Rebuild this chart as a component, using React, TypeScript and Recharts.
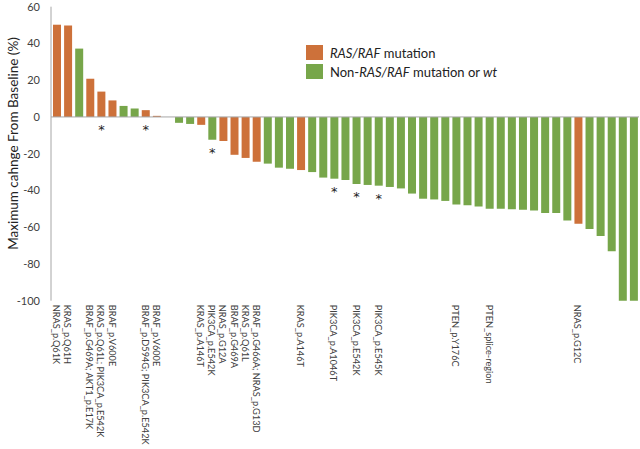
import { BarChart, Bar, XAxis, YAxis, Cell, LabelList, ReferenceLine, Legend } from "recharts";

// one bar per patient, sorted by best change from baseline (%)
const changes = [
  50.2, 49.8, 37.2, 20.8, 13.8, 9.0, 6.0, 4.6, 3.7, 0.6,
  0, -3.2, -3.8, -4.3, -12.4, -13.1, -20.6, -22.3, -24.4, -25.4,
  -27.6, -28.2, -28.9, -30.0, -33.0, -33.6, -34.3, -36.5, -37.0, -37.4,
  -38.1, -38.9, -41.7, -44.5, -44.9, -45.7, -47.6, -48.0, -48.7, -50.0,
  -50.0, -50.2, -50.5, -50.9, -52.3, -52.3, -56.3, -58.1, -61.0, -64.8,
  -73.1, -100, -100,
];

// R = RAS/RAF mutation, N = non-RAS/RAF mutation or wt
const groups = [
  "R", "R", "N", "R", "R", "R", "N", "N", "R", "R",
  "N", "N", "N", "R", "N", "R", "R", "R", "R", "N",
  "N", "N", "R", "N", "N", "N", "N", "N", "N", "N",
  "N", "N", "N", "N", "N", "N", "N", "N", "N", "N",
  "N", "N", "N", "N", "N", "N", "N", "R", "N", "N",
  "N", "N", "N",
];

const mutations = [
  "NRAS_p.Q61K", "KRAS_p.Q61H", "", "BRAF_p.G469A; AKT1_p.E17K", "KRAS_p.Q61L; PIK3CA_p.E542K",
  "BRAF_p.V600E", "", "", "BRAF_p.D594G; PIK3CA_p.E542K", "BRAF_p.V600E",
  "", "", "", "KRAS_p.A146T", "PIK3CA_p.E542K",
  "NRAS_p.G12A", "BRAF_p.G469A", "KRAS_p.Q61L", "BRAF_p.G466A; NRAS_p.G13D", "",
  "", "", "KRAS_p.A146T", "", "",
  "PIK3CA_p.A1046T", "", "PIK3CA_p.E542K", "", "PIK3CA_p.E545K",
  "", "", "", "", "",
  "", "PTEN_p.Y176C", "", "", "PTEN_splice-region",
  "", "", "", "", "",
  "", "", "NRAS_p.G12C", "", "",
  "", "", "",
];

const stars = [5, 9, 15, 26, 28, 30];

const yTicks = [-100, -80, -60, -40, -20, 0, 20, 40, 60];

const ORANGE = "#CD713A";
const GREEN = "#77A64A";
const FONT = "Lato, 'Open Sans', sans-serif";

const data = changes.map((v, i) => ({
  id: i + 1,
  change: v,
  group: groups[i],
  star: stars.includes(i + 1) ? "*" : "",
}));

function MutationTick(props: any) {
  const { x, y, index } = props;
  const label = mutations[index] || "";
  if (!label) return null;
  return (
    <text
      transform={`translate(${x},${y}) rotate(90)`}
      textAnchor="start"
      dominantBaseline="central"
      fontSize={9.2}
      fontFamily={FONT}
      fill="#404040"
    >
      {label}
    </text>
  );
}

function Star(props: any) {
  const { x, y, width, height, value } = props;
  if (!value) return null;
  const bottom = Math.max(y, y + height);
  return (
    <text x={x + width / 2} y={bottom + 17} textAnchor="middle" fontSize={13} fontFamily="DejaVu Sans" fill="#222">
      {value}
    </text>
  );
}

function LegendBox() {
  const row = { display: "flex", alignItems: "center", height: 19 };
  const box = (c: string) => ({ width: 17, height: 15, background: c, marginRight: 7 });
  return (
    <div style={{ fontFamily: FONT, fontSize: 13, color: "#222" }}>
      <div style={row}>
        <div style={box(ORANGE)} />
        <span><i>RAS/RAF</i> mutation</span>
      </div>
      <div style={row}>
        <div style={box(GREEN)} />
        <span>Non-<i>RAS/RAF</i> mutation or <i>wt</i></span>
      </div>
    </div>
  );
}

export default function App() {
  return (
    <div style={{ position: "absolute", left: 0, top: 0, width: 640, height: 449, background: "#fff" }}>
      <BarChart
        width={640}
        height={449}
        data={data}
        margin={{ top: 6.7, right: 1, bottom: 0, left: 0 }}
        barSize={8}
      >
        <XAxis
          dataKey="id"
          interval={0}
          axisLine={false}
          tickLine={false}
          tickSize={0}
          tickMargin={4}
          height={148.3}
          tick={<MutationTick />}
        />
        <YAxis
          width={51}
          domain={[-100, 60]}
          ticks={yTicks}
          tickLine={false}
          tickMargin={5}
          axisLine={{ stroke: "#a6a6a6" }}
          tick={{ fontSize: 11, fill: "#404040", fontFamily: FONT }}
          label={{
            content: () => (
              <text
                x={13}
                y={143.5}
                transform="rotate(-90 13 143.5)"
                textAnchor="middle"
                dominantBaseline="central"
                fontSize={13.5}
                fontFamily={FONT}
                fill="#222"
              >
                Maximum  cahnge From Baseline (%)
              </text>
            ),
          }}
        />
        <Legend
          verticalAlign="middle"
          align="center"
          content={<LegendBox />}
          wrapperStyle={{ left: 306, top: 43, width: 320, height: 40 }}
        />
        <Bar dataKey="change" isAnimationActive={false}>
          {data.map((d) => (
            <Cell key={d.id} fill={d.group === "R" ? ORANGE : GREEN} />
          ))}
          <LabelList dataKey="star" content={<Star />} />
        </Bar>
        <ReferenceLine y={0} stroke="#a6a6a6" strokeWidth={1} />
      </BarChart>
    </div>
  );
}
